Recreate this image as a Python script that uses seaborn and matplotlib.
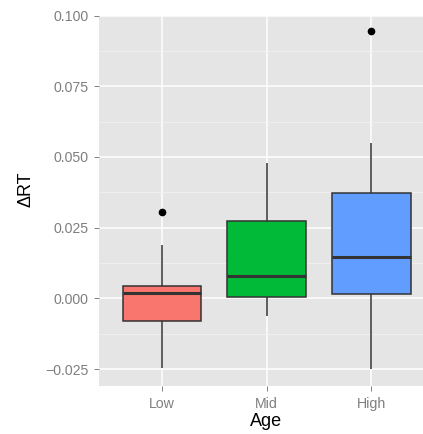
import matplotlib
matplotlib.use("Agg")
import matplotlib.pyplot as plt
import seaborn as sns
import pandas as pd
import numpy as np

# -------------------------------
# DATA
# -------------------------------
age_groups = ["Low", "Mid", "High"]
box_colors = ["#F8766D", "#00BA38", "#619CFF"]

# nine values per group -> quartiles, whiskers and outliers as in the picture
low_rt = [-0.0245, -0.0120, -0.0079, -0.0030, 0.0019, 0.0030, 0.0043, 0.0189, 0.0305]
mid_rt = [-0.0064, 0.0000, 0.0004, 0.0040, 0.0080, 0.0150, 0.0273, 0.0350, 0.0478]
high_rt = [-0.0250, -0.0050, 0.0014, 0.0080, 0.0146, 0.0250, 0.0373, 0.0551, 0.0945]

y_ticks = [-0.025, 0.000, 0.025, 0.050, 0.075, 0.100]
y_tick_labels = ["\u22120.025", "0.000", "0.025", "0.050", "0.075", "0.100"]
y_minor = [-0.0125, 0.0125, 0.0375, 0.0625, 0.0875]

df = pd.DataFrame({
    "Age": ["Low"] * len(low_rt) + ["Mid"] * len(mid_rt) + ["High"] * len(high_rt),
    "dRT": low_rt + mid_rt + high_rt,
})

# -------------------------------
# PLOT
# -------------------------------
sns.set_theme(style="darkgrid")
plt.rcParams["font.family"] = ["Liberation Sans", "DejaVu Sans"]

W, H = 423, 434
fig = plt.figure(figsize=(W / 100, H / 100), dpi=100)
ax = fig.add_axes([99 / W, 48 / H, 1 - 99 / W, (386 - 15.6) / H])
ax.set_facecolor("#E5E5E5")

sns.boxplot(
    data=df, x="Age", y="dRT", hue="Age", order=age_groups, hue_order=age_groups,
    palette=box_colors, width=0.75, whis=1.5, showcaps=False, legend=False,
    linecolor="#333333", linewidth=1.1, saturation=1,
    medianprops={"linewidth": 2.2, "color": "#333333"},
    flierprops={"marker": "o", "markersize": 4.5, "markerfacecolor": "black",
                "markeredgecolor": "black"},
    ax=ax, zorder=3,
)

ax.set_xlim(-0.6, 2.493)
ax.set_ylim(-0.031, 0.0999)

ax.set_yticks(y_ticks)
ax.set_yticklabels(y_tick_labels)
ax.set_yticks(y_minor, minor=True)

ax.grid(which="major", color="white", linewidth=1.1)
ax.grid(which="minor", axis="y", color="#F2F2F2", linewidth=0.6)
ax.set_axisbelow(True)
for s in ax.spines.values():
    s.set_visible(False)

ax.tick_params(axis="both", which="major", left=True, bottom=True, length=3.3,
               width=0.7, color="#7F7F7F", labelcolor="#7F7F7F", labelsize=10.2)
ax.tick_params(axis="x", which="major", pad=4.3)
ax.tick_params(axis="y", which="major", pad=4.5)
ax.tick_params(axis="y", which="minor", length=0)

ax.set_xlabel("Age", fontsize=13, color="black")
ax.set_ylabel("\u0394RT", fontsize=13, color="black")
ax.xaxis.label.set_va("center")
ax.yaxis.label.set_va("center")
ax.xaxis.set_label_coords((266.5 - 99) / 324, (H - 422 - 48) / 370.4)
ax.yaxis.set_label_coords((26 - 99) / 324, (H - 189.5 - 48) / 370.4)

fig.savefig("out.png", dpi=100)
